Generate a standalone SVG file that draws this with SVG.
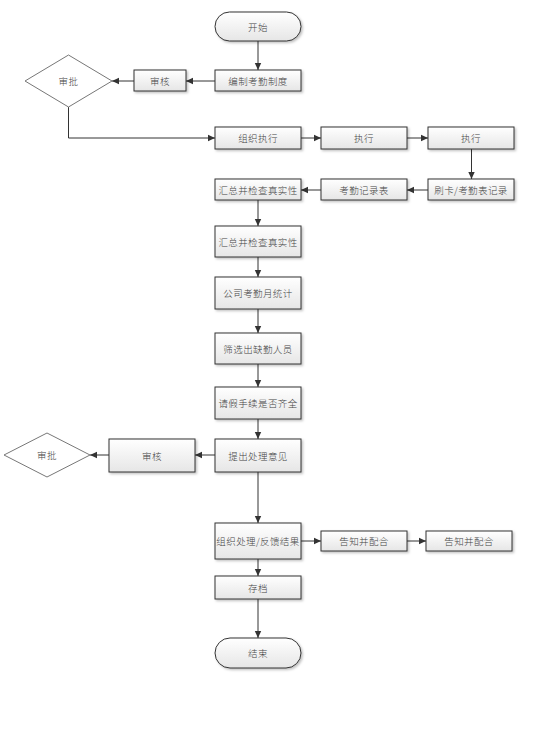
<svg xmlns="http://www.w3.org/2000/svg" width="535" height="748" viewBox="0 0 535 748">
<defs>
<linearGradient id="g" x1="0" y1="0" x2="0" y2="1">
<stop offset="0" stop-color="#ffffff"/>
<stop offset="1" stop-color="#e6e6e6"/>
</linearGradient>
<marker id="ah" markerWidth="8" markerHeight="8" refX="7" refY="4" orient="auto" markerUnits="userSpaceOnUse">
<path d="M0,0.8 L7,4 L0,7.2 Z" fill="#333"/>
</marker>
<filter id="sh" x="-10%" y="-10%" width="130%" height="140%">
<feDropShadow dx="1.5" dy="1.5" stdDeviation="0.8" flood-color="#000" flood-opacity="0.25"/>
</filter>
</defs>
<style>
.b{fill:url(#g);stroke:#333;stroke-width:1;filter:url(#sh)}
.d{fill:#fff;stroke:#777;stroke-width:1}
.t{font-family:"Noto Sans CJK SC","Noto Sans CJK JP",sans-serif;font-size:9.5px;font-weight:300;fill:#444;text-anchor:middle;dominant-baseline:central;letter-spacing:0.4px}
.c{fill:none;stroke:#333;stroke-width:1;marker-end:url(#ah)}
</style>
<rect width="535" height="748" fill="#fff"/>
<g id="connectors">
<path class="c" d="M258,41 V70"/>
<path class="c" d="M215,81 H186"/>
<path class="c" d="M134,81 H112"/>
<path class="c" d="M68.5,107 V138 H215"/>
<path class="c" d="M301,138 H321"/>
<path class="c" d="M407,138 H428"/>
<path class="c" d="M471.5,149 V179"/>
<path class="c" d="M428,190 H407"/>
<path class="c" d="M321,190 H301"/>
<path class="c" d="M258,200 V226"/>
<path class="c" d="M258,257 V277"/>
<path class="c" d="M258,309 V333"/>
<path class="c" d="M258,364 V387"/>
<path class="c" d="M258,419 V439"/>
<path class="c" d="M215,455 H195"/>
<path class="c" d="M109,455 H90"/>
<path class="c" d="M258,472 V523"/>
<path class="c" d="M301,541 H321"/>
<path class="c" d="M407,541 H426"/>
<path class="c" d="M258,559 V576"/>
<path class="c" d="M258,599 V638"/>
</g>
<g id="start"><rect class="b" x="215" y="12" width="86" height="29" rx="14.5"/><text class="t" x="258" y="26.5">开始</text></g>
<g id="bianzhi"><rect class="b" x="215" y="70" width="86" height="21"/><text class="t" x="258" y="80.5">编制考勤制度</text></g>
<g id="shenhe1"><rect class="b" x="134" y="70" width="52" height="21"/><text class="t" x="160" y="80.5">审核</text></g>
<g id="shenpi1"><polygon class="d" points="68.5,55 112,81 68.5,107 25,81"/><text class="t" x="68.5" y="81">审批</text></g>
<g id="zuzhi"><rect class="b" x="215" y="127" width="86" height="22"/><text class="t" x="258" y="138">组织执行</text></g>
<g id="zhixing1"><rect class="b" x="321" y="127" width="86" height="22"/><text class="t" x="364" y="138">执行</text></g>
<g id="zhixing2"><rect class="b" x="428" y="127" width="86" height="22"/><text class="t" x="471" y="138">执行</text></g>
<g id="shuaka"><rect class="b" x="428" y="179" width="86" height="21"/><text class="t" x="471" y="189.5">刷卡/考勤表记录</text></g>
<g id="jilubiao"><rect class="b" x="321" y="179" width="86" height="21"/><text class="t" x="364" y="189.5">考勤记录表</text></g>
<g id="huizong1"><rect class="b" x="215" y="179" width="86" height="21"/><text class="t" x="258" y="189.5">汇总并检查真实性</text></g>
<g id="huizong2"><rect class="b" x="215" y="226" width="86" height="31"/><text class="t" x="258" y="241.5">汇总并检查真实性</text></g>
<g id="tongji"><rect class="b" x="215" y="277" width="86" height="32"/><text class="t" x="258" y="293">公司考勤月统计</text></g>
<g id="shaixuan"><rect class="b" x="215" y="333" width="86" height="31"/><text class="t" x="258" y="348.5">筛选出缺勤人员</text></g>
<g id="qingjia"><rect class="b" x="215" y="387" width="86" height="32"/><text class="t" x="258" y="403">请假手续是否齐全</text></g>
<g id="tichu"><rect class="b" x="215" y="439" width="86" height="33"/><text class="t" x="258" y="455.5">提出处理意见</text></g>
<g id="shenhe2"><rect class="b" x="109" y="439" width="86" height="33"/><text class="t" x="152" y="455.5">审核</text></g>
<g id="shenpi2"><polygon class="d" points="47,433 90,455 47,477 4,455"/><text class="t" x="47" y="455">审批</text></g>
<g id="chuli"><rect class="b" x="215" y="523" width="86" height="36"/><text class="t" x="258" y="541">组织处理/反馈结果</text></g>
<g id="gaozhi1"><rect class="b" x="321" y="531" width="86" height="20"/><text class="t" x="364" y="541">告知并配合</text></g>
<g id="gaozhi2"><rect class="b" x="426" y="531" width="86" height="20"/><text class="t" x="469" y="541">告知并配合</text></g>
<g id="cundang"><rect class="b" x="215" y="576" width="86" height="23"/><text class="t" x="258" y="587.5">存档</text></g>
<g id="end"><rect class="b" x="215" y="638" width="86" height="30" rx="15"/><text class="t" x="258" y="653">结束</text></g>
</svg>
